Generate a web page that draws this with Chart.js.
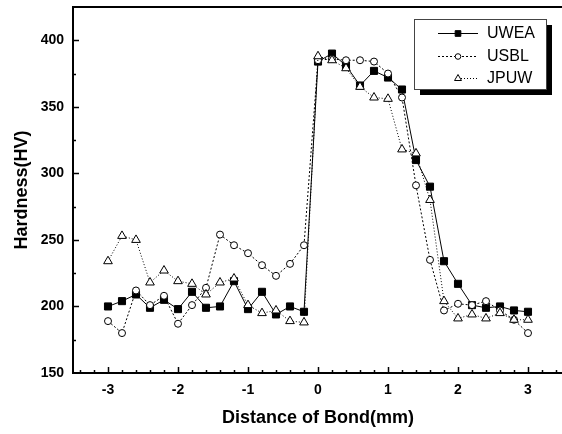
<!DOCTYPE html>
<html>
<head>
<meta charset="utf-8">
<script src="https://cdn.jsdelivr.net/npm/chart.js@4.4.0/dist/chart.umd.min.js"></script>
<style>
html, body { margin: 0; padding: 0; background: #fff; overflow: hidden; }
#wrap { width: 562px; height: 434px; overflow: hidden; position: relative; }
#wrap canvas { position: absolute; left: 0; top: 0; }
</style>
</head>
<body>
<div id="wrap"><canvas id="myChart" width="570" height="434"></canvas></div>
<script>
// distance from bond line (mm)
const distance = [-3.0, -2.8, -2.6, -2.4, -2.2, -2.0, -1.8, -1.6, -1.4, -1.2, -1.0, -0.8, -0.6, -0.4, -0.2,
                  0.0, 0.2, 0.4, 0.6, 0.8, 1.0, 1.2, 1.4, 1.6, 1.8, 2.0, 2.2, 2.4, 2.6, 2.8, 3.0];

// hardness readings (HV)
const uwea = [200, 204, 209, 199, 205, 198, 211, 199, 200, 219, 198, 211, 194, 200, 196,
              384, 390, 381, 366, 377, 372, 363, 310, 290, 234, 217, 201, 199, 200, 197, 196];
const usbl = [189, 180, 212, 201, 208, 187, 201, 214, 254, 246, 240, 231, 223, 232, 246,
              385, 386, 385, 385, 384, 375, 357, 291, 235, 197, 202, 201, 204, 197, 190, 180];
const jpuw = [234, 253, 250, 218, 227, 219, 217, 209, 218, 221, 201, 195, 197, 189, 188,
              388, 385, 379, 365, 357, 356, 318, 315, 280, 204, 191, 194, 191, 195, 190, 190];

const seriesNames = ['UWEA', 'USBL', 'JPUW'];
const xTicks = [-3, -2, -1, 0, 1, 2, 3];
const yTicks = [150, 200, 250, 300, 350, 400];

const FONT = "'Liberation Sans', Arial, Helvetica, sans-serif";

let pts = function(ys){
  return distance.map((d, i) => ({x: d, y: ys[i]}));
};

// frame round the plot area
const frame = {
  id: 'frame',
  afterDatasetsDraw(chart) {
    const {ctx, chartArea: a} = chart;
    ctx.save();
    ctx.strokeStyle = '#000';
    ctx.lineWidth = 2;
    ctx.strokeRect(a.left, a.top, a.right - a.left, a.bottom - a.top);
    ctx.restore();
  }
};

// Origin style ticks pointing into the plot
const innerTicks = {
  id: 'innerTicks',
  afterDatasetsDraw(chart) {
    const {ctx, chartArea: a, scales: {x, y}} = chart;
    ctx.save();
    ctx.strokeStyle = '#000';
    ctx.lineWidth = 1.5;
    let tick = function(x1, y1, x2, y2){
      ctx.beginPath(); ctx.moveTo(x1, y1); ctx.lineTo(x2, y2); ctx.stroke();
    };
    for (let v = -3.4; v < 3.45; v += 0.2) {
      const px = Math.round(x.getPixelForValue(v)) + 0.5;
      const major = Math.abs(v - Math.round(v)) < 0.01;
      tick(px, a.bottom, px, a.bottom - (major ? 6 : 3));
    }
    for (let v = 175; v < 425; v += 25) {
      const py = Math.round(y.getPixelForValue(v)) + 0.5;
      const major = v % 50 == 0;
      tick(a.left, py, a.left + (major ? 6 : 3), py);
    }
    ctx.restore();
  }
};

// boxed legend with drop shadow, top right
const boxLegend = {
  id: 'boxLegend',
  afterDraw(chart) {
    const ctx = chart.ctx;
    const bx = 414, by = 19, bw = 132, bh = 70;
    ctx.save();
    ctx.fillStyle = '#000';
    ctx.fillRect(bx + 6, by + 6, bw, bh);
    ctx.fillStyle = '#fff';
    ctx.fillRect(bx, by, bw, bh);
    ctx.strokeStyle = '#444';
    ctx.lineWidth = 1;
    ctx.strokeRect(bx + 0.5, by + 0.5, bw, bh);
    const rows = [33, 56, 78];
    chart.data.datasets.forEach((ds, i) => {
      const yy = rows[i] + 0.5;
      ctx.strokeStyle = '#000';
      ctx.lineWidth = 1;
      ctx.setLineDash(ds.borderDash || []);
      ctx.beginPath();
      ctx.moveTo(i == 2 ? 458 : 438, yy);
      ctx.lineTo(478, yy);
      ctx.stroke();
      ctx.setLineDash([]);
      ctx.fillStyle = ds.pointBackgroundColor;
      Chart.helpers.drawPoint(ctx, {pointStyle: ds.pointStyle, radius: ds.pointRadius * 0.8, rotation: 0, borderWidth: 1}, 458, yy);
      ctx.fillStyle = '#000';
      ctx.font = '16px ' + FONT;
      ctx.textBaseline = 'middle';
      ctx.textAlign = 'left';
      ctx.fillText(ds.label, 487, rows[i] + 1);
    });
    ctx.restore();
  }
};

let fixBox = function(size){
  return function(s){
    if (s.isHorizontal()) s.height = size; else s.width = size;
    s.paddingTop = 0; s.paddingBottom = 0; s.paddingLeft = 0; s.paddingRight = 0;
  };
};

new Chart(document.getElementById('myChart'), {
  type: 'line',
  data: {
    datasets: [
      {
        label: seriesNames[0], data: pts(uwea), order: 3,
        borderColor: '#000', borderWidth: 1,
        pointStyle: 'rect', pointRadius: 5,
        pointBackgroundColor: '#000', pointBorderColor: '#000', pointBorderWidth: 1
      },
      {
        label: seriesNames[1], data: pts(usbl), order: 2,
        borderColor: '#000', borderWidth: 1, borderDash: [2, 2],
        pointStyle: 'circle', pointRadius: 3.5,
        pointBackgroundColor: '#fff', pointBorderColor: '#000', pointBorderWidth: 1
      },
      {
        label: seriesNames[2], data: pts(jpuw), order: 1,
        borderColor: '#000', borderWidth: 1, borderDash: [1, 2],
        pointStyle: 'triangle', pointRadius: 5,
        pointBackgroundColor: '#fff', pointBorderColor: '#000', pointBorderWidth: 1
      }
    ]
  },
  options: {
    responsive: false,
    animation: false,
    layout: { padding: { top: 7, right: 7, left: 0, bottom: 0 } },
    plugins: { legend: { display: false }, tooltip: { enabled: false } },
    scales: {
      x: {
        type: 'linear', min: -3.5, max: 3.5,
        afterBuildTicks: s => { s.ticks = xTicks.map(v => ({value: v})); },
        afterFit: fixBox(61),
        grid: { display: false, drawTicks: false },
        border: { display: false },
        ticks: { color: '#000', padding: 9, font: { family: FONT, size: 14, weight: 'bold' } },
        title: { display: true, text: 'Distance of Bond(mm)', color: '#000',
                 padding: { top: 0, bottom: 5 }, font: { family: FONT, size: 18, weight: 'bold' } }
      },
      y: {
        min: 150, max: 425,
        afterBuildTicks: s => { s.ticks = yTicks.map(v => ({value: v})); },
        afterFit: fixBox(73),
        grid: { display: false, drawTicks: false },
        border: { display: false },
        ticks: { color: '#000', padding: 9, font: { family: FONT, size: 14, weight: 'bold' } },
        title: { display: true, text: 'Hardness(HV)', color: '#000',
                 padding: { top: 11, bottom: 0 }, font: { family: FONT, size: 18, weight: 'bold' } }
      }
    }
  },
  plugins: [frame, innerTicks, boxLegend]
});
</script>
</body>
</html>
